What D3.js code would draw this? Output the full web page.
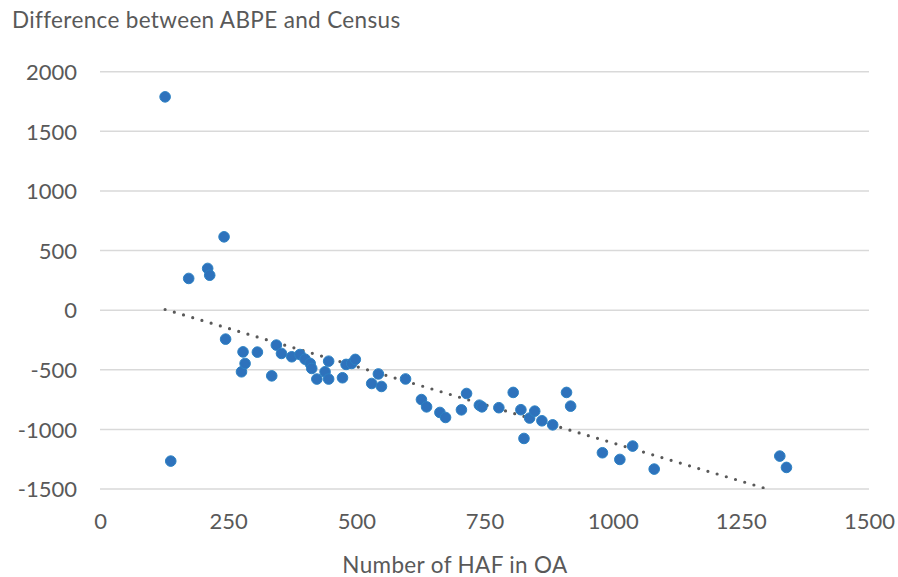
<!DOCTYPE html>
<html>
<head>
<meta charset="utf-8">
<script src="https://cdn.jsdelivr.net/npm/d3@7"></script>
<style>
  html, body { margin: 0; padding: 0; background: #fff; }
  svg { display: block; }
  text { font-family: Lato, "Open Sans", sans-serif; fill: #595959; }
</style>
</head>
<body>
<svg id="chart" width="898" height="577"></svg>
<script>
// ---- data ----
const haf = [127, 138, 173, 210, 214, 242, 245, 276, 279, 283, 307, 335, 344, 354, 374, 390, 400, 410, 413, 423, 439, 446, 446, 473, 480, 491, 498, 530, 543, 549, 596, 627, 637, 663, 674, 705, 715, 740, 745, 778, 806, 821, 827, 838, 848, 862, 883, 910, 918, 980, 1014, 1039, 1081, 1326, 1339];
const diff = [1789, -1266, 266, 350, 293, 615, -243, -517, -350, -447, -352, -551, -293, -363, -391, -372, -411, -447, -489, -578, -517, -428, -578, -567, -455, -447, -413, -615, -535, -640, -577, -750, -811, -858, -900, -836, -699, -797, -811, -818, -690, -835, -1076, -905, -847, -928, -962, -690, -805, -1196, -1252, -1140, -1333, -1224, -1319];
const xTicks = [0, 250, 500, 750, 1000, 1250, 1500];
const yTicks = [-1500, -1000, -500, 0, 500, 1000, 1500, 2000];
const yTitle = "Difference between ABPE and Census";
const xTitle = "Number of HAF in OA";

const svg = d3.select("#chart");
const pLeft = 100, pRight = 869, pTop = 71.7, pBottom = 489;

const x = d3.scaleLinear().domain([0, 1500]).range([pLeft, pRight]);
const y = d3.scaleLinear().domain([-1500, 2000]).range([pBottom, pTop]);

// gridlines
svg.append("g")
  .selectAll("line").data(yTicks).join("line")
  .attr("x1", pLeft).attr("x2", pRight)
  .attr("y1", d => y(d)).attr("y2", d => y(d))
  .attr("stroke", "#d9d9d9").attr("stroke-width", 1.5);

const fmt = d => String(d);

// y axis labels
const yAxis = d3.axisLeft(y).tickValues(yTicks).tickSize(0).tickPadding(0).tickFormat(fmt);
const gy = svg.append("g").attr("transform", `translate(77,0)`).call(yAxis);
gy.select(".domain").remove();
gy.selectAll("text").attr("font-size", 22).attr("fill", "#595959").attr("dy", "0.35em")
  .style("font-family", "Lato, sans-serif");

// x axis labels
const xAxis = d3.axisBottom(x).tickValues(xTicks).tickSize(0).tickPadding(0).tickFormat(fmt);
const gx = svg.append("g").attr("transform", `translate(0,513)`).call(xAxis);
gx.select(".domain").remove();
gx.selectAll("text").attr("font-size", 22).attr("fill", "#595959").attr("dy", "0.71em")
  .style("font-family", "Lato, sans-serif");

// titles
svg.append("text").attr("x", 12).attr("y", 28).attr("font-size", 22.5)
  .attr("letter-spacing", 0.35).text(yTitle);
svg.append("text").attr("x", 455).attr("y", 573).attr("text-anchor", "middle").attr("font-size", 22.5)
  .attr("letter-spacing", 0.35).text(xTitle);

// points
const pts = haf.map((v, i) => ({ x: v, y: diff[i] }));

// linear trendline (least squares)
const mx = d3.mean(haf), my = d3.mean(diff);
let sxy = 0, sxx = 0;
pts.forEach(p => { sxy += (p.x - mx) * (p.y - my); sxx += (p.x - mx) ** 2; });
const slope = sxy / sxx, icpt = my - slope * mx;
const x0 = d3.min(haf), x1 = d3.max(haf);
svg.append("defs").append("clipPath").attr("id", "clip")
  .append("rect").attr("x", pLeft).attr("y", pTop - 10).attr("width", pRight - pLeft).attr("height", pBottom - pTop + 10);
svg.append("line")
  .attr("clip-path", "url(#clip)")
  .attr("x1", x(x0)).attr("y1", y(icpt + slope * x0))
  .attr("x2", x(x1)).attr("y2", y(icpt + slope * x1))
  .attr("stroke", "#595959").attr("stroke-width", 3.2)
  .attr("stroke-linecap", "round").attr("stroke-dasharray", "0,9.6");

svg.append("g").selectAll("circle").data(pts).join("circle")
  .attr("cx", d => x(d.x)).attr("cy", d => y(d.y)).attr("r", 5.3)
  .attr("fill", "#2E72BC").attr("stroke", "#2C82C4").attr("stroke-width", 1);
</script>
</body>
</html>
